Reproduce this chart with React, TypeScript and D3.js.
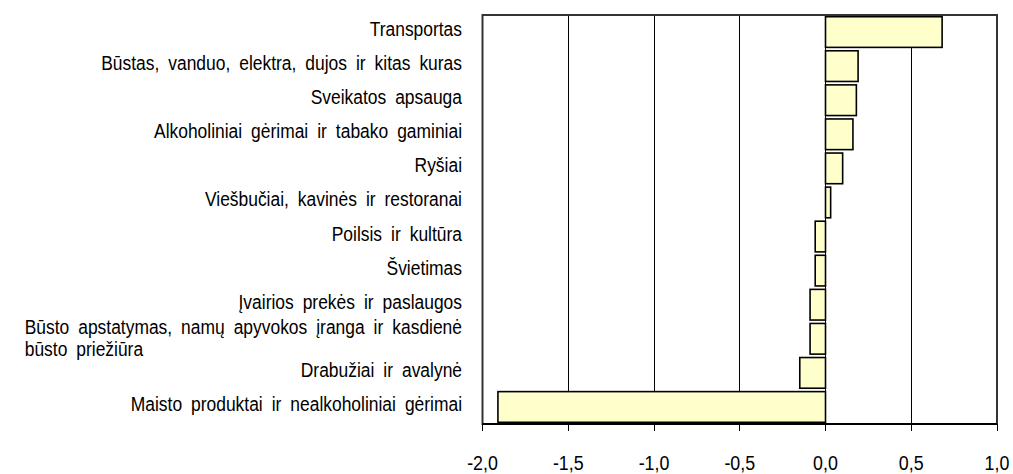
import React, { useEffect, useRef } from "react";
import * as d3 from "d3";

const categories: string[] = [
  "Transportas",
  "Būstas, vanduo, elektra, dujos ir kitas kuras",
  "Sveikatos apsauga",
  "Alkoholiniai gėrimai ir tabako gaminiai",
  "Ryšiai",
  "Viešbučiai, kavinės ir restoranai",
  "Poilsis ir kultūra",
  "Švietimas",
  "Įvairios prekės ir paslaugos",
  "Būsto apstatymas, namų apyvokos įranga ir kasdienė\nbūsto priežiūra",
  "Drabužiai ir avalynė",
  "Maisto produktai ir nealkoholiniai gėrimai",
];
const values: number[] = [0.68, 0.19, 0.18, 0.16, 0.1, 0.03, -0.06, -0.06, -0.09, -0.09, -0.15, -1.91];
const xTicks: number[] = [-2.0, -1.5, -1.0, -0.5, 0.0, 0.5, 1.0];

const W = 1013;
const H = 474;
const FONT = "'Liberation Sans', Arial, sans-serif";
const SX = 0.83;

export default function App() {
  const ref = useRef<SVGSVGElement | null>(null);

  useEffect(() => {
    const svg = d3.select(ref.current);
    svg.selectAll("*").remove();
    const left = 482.5, right = 997, top = 15, bottom = 424;
    const x = d3.scaleLinear().domain([-2, 1]).range([left, right]);
    const y = d3.scaleBand<string>().domain(categories).range([top, bottom]).paddingInner(0.1).paddingOuter(0.05);

    const addText = (tx: number, ty: number, s: string, anchor: string, size: number, sx: number, ws = 0) => {
      const g = svg.append("g").attr("transform", `translate(${tx},${ty}) scale(${sx},1)`);
      return g.append("text").attr("x", 0).attr("y", 0)
        .attr("text-anchor", anchor).attr("font-family", FONT).attr("font-size", size).attr("fill", "#000")
        .attr("word-spacing", ws)
        .text(s);
    };

    // gridlines
    svg.append("g").selectAll("line").data(xTicks.slice(1, -1)).join("line")
      .attr("x1", (d) => x(d)).attr("x2", (d) => x(d))
      .attr("y1", top).attr("y2", bottom)
      .attr("stroke", "#000").attr("stroke-width", 1).attr("shape-rendering", "crispEdges");

    // bars
    svg.append("g").selectAll("rect").data(values).join("rect")
      .attr("x", (d) => x(Math.min(0, d)))
      .attr("width", (d) => Math.abs(x(d) - x(0)))
      .attr("y", (_d, i) => y(categories[i])!)
      .attr("height", y.bandwidth())
      .attr("fill", "#FFFFCC")
      .attr("stroke", "#000")
      .attr("stroke-width", 1.6);

    // frame
    svg.append("rect").attr("x", left).attr("y", top).attr("width", right - left).attr("height", bottom - top)
      .attr("fill", "none").attr("stroke", "#333").attr("stroke-width", 2);
    svg.append("line").attr("x1", left).attr("x2", right).attr("y1", bottom).attr("y2", bottom)
      .attr("stroke", "#000").attr("stroke-width", 2);

    // ticks
    svg.append("g").selectAll("line").data(xTicks).join("line")
      .attr("x1", (d) => x(d)).attr("x2", (d) => x(d))
      .attr("y1", bottom).attr("y2", bottom + 7)
      .attr("stroke", "#000").attr("stroke-width", 1).attr("shape-rendering", "crispEdges");
    xTicks.forEach((d) => {
      addText(x(d), 470, d3.format(".1f")(d).replace(".", ",").replace("−", "-"), "middle", 21, 0.85);
    });

    // category labels
    const labelRight = 462;
    const WS = 5;
    categories.forEach((c) => {
      const lines = c.split("\n");
      const cy = y(c)! + y.bandwidth() / 2;
      if (lines.length === 1) {
        addText(labelRight, cy + 4, c, "end", 21, SX, WS);
      } else {
        const t0 = addText(labelRight, cy - 5, lines[0], "end", 21, SX, WS);
        const w = (t0.node() as SVGTextElement).getComputedTextLength() * SX;
        lines.slice(1).forEach((ln, k) => {
          addText(labelRight - w, cy - 4 + 21 * (k + 1), ln, "start", 21, SX, WS);
        });
      }
    });
  }, []);

  return (
    <svg ref={ref} width={W} height={H} style={{ position: "absolute", left: 0, top: 0, background: "#fff" }} />
  );
}
